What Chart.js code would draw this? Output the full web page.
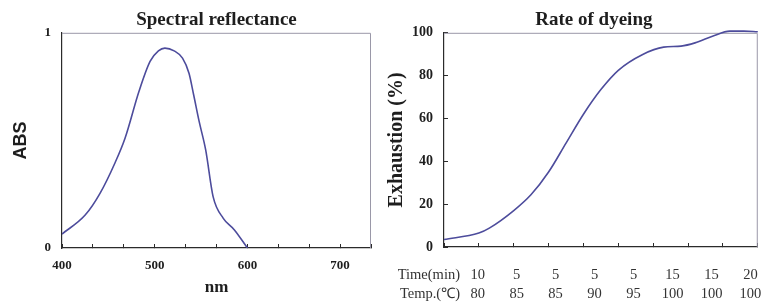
<!DOCTYPE html>
<html>
<head>
<meta charset="utf-8">
<script src="https://cdn.jsdelivr.net/npm/chart.js@4.4.1/dist/chart.umd.min.js"></script>
<style>
  html, body { margin: 0; padding: 0; background: #fff; }
  #wrap { position: relative; width: 764px; height: 306px; }
  #wrap canvas { position: absolute; top: 0; }
</style>
</head>
<body>
<div id="wrap">
  <canvas id="spectral" width="385" height="306" style="left:0;width:385px;height:306px"></canvas>
  <canvas id="dyeing" width="379" height="306" style="left:385px;width:379px;height:306px"></canvas>
</div>
<script>
// spectral reflectance curve
const wavelength = [400, 425, 441, 457, 468, 483, 495, 504, 511, 521, 530, 537, 542, 548, 555, 563, 574, 586, 600];
const absValues  = [0.065, 0.153, 0.254, 0.394, 0.51, 0.727, 0.867, 0.916, 0.929, 0.916, 0.882, 0.812, 0.712, 0.587, 0.456, 0.239, 0.138, 0.084, 0];

// rate of dyeing, x in dyeing steps (0..9)
const stepPos    = [0, 1, 1.3, 2, 2.5, 3, 3.5, 4, 4.5, 5, 5.7, 6.3, 6.8, 7.2, 7.7, 8.2, 8.6, 9];
const exhaustion = [3.5, 6.5, 8.8, 17, 24.5, 35, 48.5, 62, 73.5, 82.5, 89.9, 93.3, 93.8, 95.3, 98.4, 100.8, 100.8, 100.5];

// table under the dyeing chart
const timeMin  = ['10', '5', '5', '5', '5', '15', '15', '20'];
const tempC    = ['80', '85', '85', '90', '95', '100', '100', '100'];
const rowHeads = ['Time(min)', 'Temp.(℃)'];

const serif = 'Liberation Serif';
const lineColor = '#4d4c9c';
const axisColor = '#2b2b2b';
const frameColor = '#9a98a8';

// thin border on top and right of the plot area
const framePlugin = {
    id: 'frame',
    beforeDatasetsDraw(chart) {
        const { ctx, chartArea: a } = chart;
        ctx.save();
        ctx.strokeStyle = frameColor;
        ctx.lineWidth = 1;
        ctx.beginPath();
        ctx.moveTo(a.left, a.top + 0.5);
        ctx.lineTo(a.right - 0.5, a.top + 0.5);
        ctx.lineTo(a.right - 0.5, a.bottom);
        ctx.stroke();
        ctx.restore();
    }
};

// row headers of the time / temperature table
const rowHeadPlugin = {
    id: 'rowHeads',
    afterDraw(chart) {
        const { ctx, chartArea } = chart;
        const sc = chart.scales.x2;
        ctx.save();
        ctx.font = '14.5px "' + serif + '"';
        ctx.fillStyle = '#333';
        ctx.textAlign = 'right';
        ctx.textBaseline = 'middle';
        rowHeads.forEach((t, i) => {
            ctx.fillText(t, chartArea.left + 16, sc.top + 2.5 + 9.5 + i * 19);
        });
        ctx.restore();
    }
};

// the dyeing title sits a little left of the plot centre
const titleNudge = {
    id: 'titleNudge',
    afterLayout(chart) {
        if (chart.titleBlock) {
            chart.titleBlock.left -= 7;
            chart.titleBlock.right -= 7;
        }
    }
};

function titleOpts(text) {
    return {
        display: true,
        text: text,
        fullSize: false,
        color: '#1e1e1e',
        font: { family: serif, size: 19, weight: 'bold' },
        padding: { top: 9, bottom: 1 }
    };
}

new Chart(document.getElementById('spectral'), {
    type: 'line',
    data: {
        datasets: [{
            data: wavelength.map((w, i) => ({ x: w, y: absValues[i] })),
            borderColor: lineColor,
            borderWidth: 1.6,
            pointRadius: 0,
            cubicInterpolationMode: 'monotone',
            parsing: false
        }]
    },
    options: {
        responsive: false,
        animation: false,
        layout: { padding: { left: 0, right: 3, top: 0, bottom: 0 } },
        plugins: {
            legend: { display: false },
            tooltip: { enabled: false },
            title: titleOpts('Spectral reflectance')
        },
        scales: {
            x: {
                type: 'linear',
                min: 400,
                max: 2200 / 3,
                afterFit(s) { s.height = 58; },
                ticks: {
                    stepSize: 100 / 3,
                    autoSkip: false,
                    maxRotation: 0,
                    padding: 14,
                    color: '#1e1e1e',
                    font: { family: serif, size: 13, weight: 'bold' },
                    callback: v => {
                        const r = Math.round(v / 100) * 100;
                        return Math.abs(v - r) < 0.01 ? String(r) : '';
                    }
                },
                grid: { drawOnChartArea: false, tickLength: -4, color: axisColor },
                border: { color: axisColor, width: 1.2 },
                title: {
                    display: true,
                    text: 'nm',
                    color: '#1e1e1e',
                    font: { family: serif, size: 17, weight: 'bold' },
                    padding: { top: 0, bottom: 8 }
                }
            },
            y: {
                min: 0,
                max: 1,
                afterFit(s) { s.width = 62; },
                ticks: {
                    stepSize: 1,
                    padding: 11,
                    color: '#1e1e1e',
                    font: { family: serif, size: 13, weight: 'bold' }
                },
                grid: { display: false, drawTicks: false },
                border: { color: axisColor, width: 1.2 },
                title: {
                    display: true,
                    text: 'ABS',
                    color: '#1e1e1e',
                    font: { family: 'Liberation Sans', size: 18, weight: 'bold' },
                    padding: { top: 10, bottom: 0 }
                }
            }
        }
    },
    plugins: [framePlugin]
});

new Chart(document.getElementById('dyeing'), {
    type: 'line',
    data: {
        datasets: [{
            data: stepPos.map((s, i) => ({ x: s, y: exhaustion[i] })),
            borderColor: lineColor,
            borderWidth: 1.6,
            pointRadius: 0,
            cubicInterpolationMode: 'monotone',
            clip: false,
            parsing: false
        }]
    },
    options: {
        responsive: false,
        animation: false,
        layout: { padding: { left: 0, right: 5.7, top: 0, bottom: 0 } },
        plugins: {
            legend: { display: false },
            tooltip: { enabled: false },
            title: titleOpts('Rate of dyeing')
        },
        scales: {
            x: {
                type: 'linear',
                min: 0,
                max: 9,
                weight: 0,
                afterFit(s) { s.height = 16; },
                ticks: { stepSize: 1, autoSkip: false, maxRotation: 0, callback: () => '' },
                grid: { drawOnChartArea: false, tickLength: -4, color: axisColor },
                border: { color: axisColor, width: 1.2 }
            },
            x2: {
                type: 'linear',
                position: 'bottom',
                weight: 1,
                min: -0.864,
                max: 7.187,
                afterFit(s) { s.height = 43; },
                ticks: {
                    stepSize: 1,
                    includeBounds: false,
                    autoSkip: false,
                    maxRotation: 0,
                    padding: 2.5,
                    color: '#333',
                    font: { family: serif, size: 14.5, lineHeight: '19px' },
                    callback: v => {
                        const i = Math.round(v);
                        if (Math.abs(v - i) > 0.01 || i < 0 || i >= timeMin.length) return '';
                        return [timeMin[i], tempC[i]];
                    }
                },
                grid: { display: false, drawTicks: false },
                border: { display: false }
            },
            y: {
                min: 0,
                max: 100,
                afterFit(s) { s.width = 59; },
                ticks: {
                    stepSize: 20,
                    padding: 15,
                    color: '#1e1e1e',
                    font: { family: serif, size: 14, weight: 'bold' }
                },
                grid: { drawOnChartArea: false, tickLength: -4, color: axisColor },
                border: { color: axisColor, width: 1.2 },
                title: {
                    display: true,
                    text: 'Exhaustion (%)',
                    color: '#1e1e1e',
                    font: { family: serif, size: 20, weight: 'bold' },
                    padding: { top: 0, bottom: 0 }
                }
            }
        }
    },
    plugins: [framePlugin, rowHeadPlugin, titleNudge]
});
</script>
</body>
</html>
